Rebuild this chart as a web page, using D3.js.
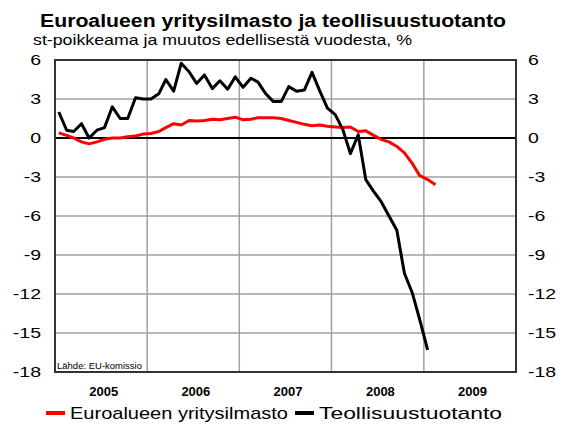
<!DOCTYPE html>
<html lang="fi">
<head>
    <meta charset="utf8">
    <script type="text/javascript" src="https://d3js.org/d3.v7.min.js"></script>
    <title>Euroalueen yritysilmasto ja teollisuustuotanto</title>
    <style>
        body { margin: 0; background: #fff; }
        text { font-family: "Liberation Sans", Arial, sans-serif; }
    </style>
</head>
<body>
    <div class="chart"></div>
</body>
<script type="text/javascript">
    // data: monthly, Jan 2005 ->
    var startYear = 2005, startMonth = 0;
    var yritysilmasto = [0.4, 0.2, 0.0, -0.3, -0.45, -0.3, -0.1, 0.0, 0.0, 0.1, 0.15, 0.3,
        0.35, 0.5, 0.8, 1.1, 1.0, 1.35, 1.3, 1.35, 1.45, 1.4, 1.5, 1.6,
        1.4, 1.45, 1.55, 1.55, 1.55, 1.5, 1.35, 1.2, 1.05, 0.95, 1.0, 0.9,
        0.85, 0.8, 0.85, 0.5, 0.55, 0.2, -0.1, -0.3, -0.65, -1.15, -1.95, -2.9,
        -3.2, -3.6];
    var teollisuus = [2.0, 0.6, 0.5, 1.1, 0.0, 0.6, 0.8, 2.4, 1.5, 1.5, 3.1, 3.0,
        3.0, 3.4, 4.5, 3.6, 5.75, 5.1, 4.2, 4.85, 3.8, 4.4, 3.75, 4.7,
        3.9, 4.6, 4.3, 3.4, 2.8, 2.8, 3.95, 3.6, 3.7, 5.05, 3.6, 2.3,
        1.8, 0.6, -1.2, 0.25, -3.2, -4.1, -4.9, -6.0, -7.1, -10.4, -11.9, -14.0,
        -16.3];
    var yTicks = [6, 3, 0, -3, -6, -9, -12, -15, -18];
    var years = [2005, 2006, 2007, 2008, 2009];
    var seriesNames = ["Euroalueen yritysilmasto", "Teollisuustuotanto"];
    var seriesColors = ["#ff0000", "#000000"];

    var width = 564, height = 426;
    var pLeft = 55, pRight = 516, pTop = 60, pBottom = 372;

    var svg = d3.select("div.chart").append("svg")
        .attr("width", width)
        .attr("height", height);

    var x = d3.scaleTime()
        .domain([new Date(2005, 0, 1), new Date(2010, 0, 1)])
        .range([pLeft, pRight]);
    var y = d3.scaleLinear().domain([-18, 6]).range([pBottom, pTop]);

    function monthDate(i) {
        return new Date(startYear, startMonth + i, 16);
    }

    // venytä tekstiä vaakasuunnassa (alkuperäinen on leveämpi)
    function stretch(sel, f) {
        sel.each(function() {
            var w = this.getComputedTextLength();
            d3.select(this).attr("textLength", w * f).attr("lengthAdjust", "spacingAndGlyphs");
        });
    }

    // otsikot
    svg.append("text")
        .attr("x", 40).attr("y", 27)
        .attr("font-size", 18).attr("font-weight", "bold")
        .attr("textLength", 466).attr("lengthAdjust", "spacingAndGlyphs")
        .text("Euroalueen yritysilmasto ja teollisuustuotanto");
    svg.append("text")
        .attr("x", 33).attr("y", 45)
        .attr("font-size", 15)
        .attr("textLength", 379).attr("lengthAdjust", "spacingAndGlyphs")
        .text("st-poikkeama ja muutos edellisestä vuodesta, %");

    // ruudukko
    var grid = svg.append("g").attr("stroke", "#a0a0a0").attr("stroke-width", 1.5);
    grid.selectAll("line.h")
        .data(yTicks.filter(function(d){ return d != 0 && d != 6 && d != -18; }))
        .enter().append("line")
        .attr("x1", pLeft).attr("x2", pRight)
        .attr("y1", function(d){ return y(d); })
        .attr("y2", function(d){ return y(d); });
    grid.selectAll("line.v")
        .data(years.slice(1))
        .enter().append("line")
        .attr("x1", function(d){ return x(new Date(d, 0, 1)); })
        .attr("x2", function(d){ return x(new Date(d, 0, 1)); })
        .attr("y1", pTop).attr("y2", pBottom);

    // nollaviiva
    svg.append("line")
        .attr("x1", pLeft).attr("x2", pRight)
        .attr("y1", y(0)).attr("y2", y(0))
        .attr("stroke", "#000").attr("stroke-width", 2);

    // sarjat
    var line = d3.line()
        .x(function(d, i){ return x(monthDate(i)); })
        .y(function(d){ return y(d); });
    [yritysilmasto, teollisuus].forEach(function(s, k) {
        svg.append("path")
            .attr("d", line(s))
            .attr("fill", "none")
            .attr("stroke", seriesColors[k])
            .attr("stroke-width", 3)
            .attr("stroke-linejoin", "round");
    });

    // kehys
    svg.append("rect")
        .attr("x", pLeft).attr("y", pTop)
        .attr("width", pRight - pLeft).attr("height", pBottom - pTop)
        .attr("fill", "none").attr("stroke", "#333").attr("stroke-width", 2);

    // y-akselit
    var labels = svg.append("g").attr("font-size", 15).attr("fill", "#000");
    labels.selectAll("text.l").data(yTicks).enter().append("text")
        .attr("class", "l")
        .attr("x", 41).attr("y", function(d){ return y(d); })
        .attr("dy", "0.36em").attr("text-anchor", "end")
        .text(function(d){ return d; })
        .call(stretch, 1.3);
    labels.selectAll("text.r").data(yTicks).enter().append("text")
        .attr("class", "r")
        .attr("x", 528).attr("y", function(d){ return y(d); })
        .attr("dy", "0.36em").attr("text-anchor", "start")
        .text(function(d){ return d; })
        .call(stretch, 1.3);

    // vuodet
    svg.append("g").attr("font-size", 13).attr("font-weight", "bold")
        .selectAll("text").data(years).enter().append("text")
        .attr("x", function(d){ return x(new Date(d, 6, 1)) + 3; })
        .attr("y", 396)
        .attr("text-anchor", "middle")
        .text(function(d){ return d; });

    // lähde
    svg.append("text")
        .attr("x", 57).attr("y", 369)
        .attr("font-size", 9.5)
        .text("Lähde: EU-komissio");

    // selite
    var legX = [46, 295];
    var legW = [218, 183];
    seriesNames.forEach(function(n, k) {
        svg.append("line")
            .attr("x1", legX[k]).attr("x2", legX[k] + 19)
            .attr("y1", 413).attr("y2", 413)
            .attr("stroke", seriesColors[k]).attr("stroke-width", 4);
        svg.append("text")
            .attr("x", legX[k] + 24).attr("y", 419)
            .attr("font-size", 17)
            .attr("textLength", legW[k]).attr("lengthAdjust", "spacingAndGlyphs")
            .text(n);
    });
</script>
</html>
